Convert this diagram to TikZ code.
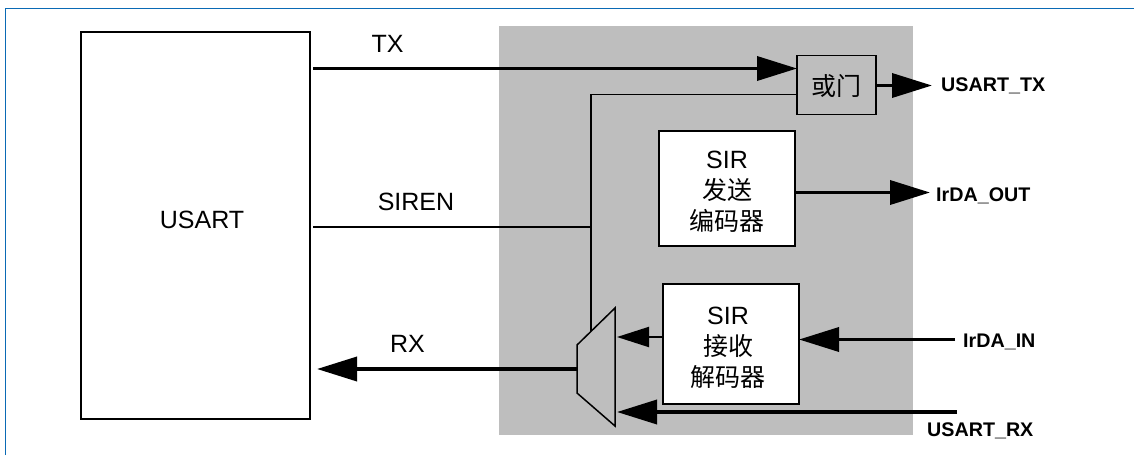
\documentclass[tikz,border=0pt]{standalone}
\usepackage{fontspec}
\setmainfont{Liberation Sans}
\newfontfamily\cjk{Noto Sans CJK SC}
\usetikzlibrary{arrows.meta}
\definecolor{framecol}{HTML}{0A6AB5}
\definecolor{graycol}{HTML}{BEBEBE}
\tikzset{
  blockS/.style  ={draw=black, line width=1.6pt, fill=white, inner sep=0pt, outer sep=0pt},
  gateS/.style   ={blockS, fill=none},
  sigS/.style    ={black, line width=1.7pt},
  busS/.style    ={black, line width=3.6pt, -{Triangle[length=40pt,width=24pt]}},
  smallbusS/.style={black, line width=2pt, -{Triangle[length=32pt,width=20pt]}},
  nameS/.style   ={inner sep=0pt, align=center, font=\fontsize{25}{31}\selectfont},
  portS/.style   ={inner sep=0pt, font=\fontsize{19.7}{24}\selectfont\bfseries},
}
\begin{document}
\begin{tikzpicture}[x=1pt,y=-1pt]
  \useasboundingbox (0,0) rectangle (1134,455);
  \draw[framecol, line width=1.8pt] (5.5,455) -- (5.5,8.5) -- (1134,8.5);
  \fill[graycol] (498.5,26) rectangle (913,435);
  \node[blockS, minimum width=229pt, minimum height=387pt] (usart) at (195.5,225.5) {};
  \node[nameS] at (202,220) {USART};
  \node[gateS, minimum width=79pt, minimum height=59pt] (orgate) at (836.5,85) {};
  \node[nameS] at (836,86) {\cjk 或门};
  \node[blockS, minimum width=136pt, minimum height=115pt] (txenc) at (727,188.5) {};
  \node[nameS] at (727,192) {SIR\\ \cjk 发送\\ \cjk 编码器};
  \node[blockS, minimum width=136pt, minimum height=120pt] (rxdec) at (731,344) {};
  \node[nameS] at (728,348) {SIR\\ \cjk 接收\\ \cjk 解码器};
  \coordinate (muxtl) at (577,345); \coordinate (muxtr) at (615,308);
  \coordinate (muxbr) at (615,426); \coordinate (muxbl) at (577,393);
  \draw[black, line width=1.5pt] (muxtl) -- (muxtr) -- (muxbr) -- (muxbl) -- cycle;
  \coordinate (txin) at (313,68.5);
  \draw[busS] (txin) -- (txin -| orgate.west);
  \node[nameS] at (387.5,44) {TX};
  \coordinate (sirenin) at (313,227); \coordinate (sirenup) at (591,94.5); \coordinate (sirenmux) at (591,331);
  \draw[sigS] (sirenin) -- (sirenin -| sirenup);
  \draw[sigS] (sirenmux) -- (sirenup) -- (sirenup -| orgate.west);
  \node[nameS] at (416,202) {SIREN};
  \coordinate (rxout) at (578,369); \coordinate (rxtip) at (317,369);
  \draw[busS] (rxout) -- (rxtip);
  \node[nameS] at (407.5,344) {RX};
  \coordinate (txtip) at (932,85.5);
  \draw[busS] (orgate.east |- txtip) -- (txtip);
  \node[portS, anchor=west] at (941,85.5) {USART\_TX};
  \coordinate (outtip) at (930,192.5);
  \draw[busS] (txenc.east |- outtip) -- (outtip);
  \node[portS, anchor=west] at (936,195.5) {IrDA\_OUT};
  \coordinate (inend) at (955,339.5);
  \draw[busS] (inend) -- (inend -| rxdec.east);
  \node[portS, anchor=west] at (963,341.5) {IrDA\_IN};
  \coordinate (rxend) at (957,412); \coordinate (muxlow) at (617,412);
  \draw[busS] (rxend) -- (muxlow);
  \node[portS, anchor=west] at (927,430.5) {USART\_RX};
  \coordinate (muxhigh) at (617,337);
  \draw[smallbusS] (rxdec.west |- muxhigh) -- (muxhigh);
\end{tikzpicture}
\end{document}
